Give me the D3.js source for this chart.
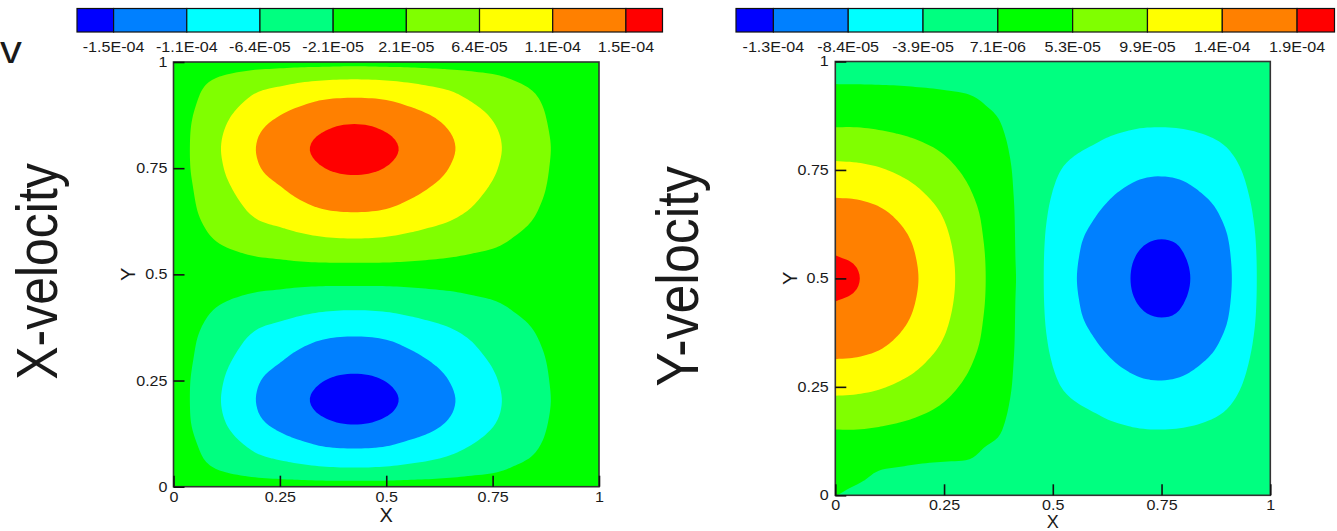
<!DOCTYPE html>
<html><head><meta charset="utf-8">
<script src="https://cdn.jsdelivr.net/npm/d3@7"></script>
<style>
html,body{margin:0;padding:0;background:#fff;}
svg{display:block;}
text{font-family:"Liberation Sans",Arial,Helvetica,sans-serif;fill:#1a1a1a;}
</style></head><body>
<svg id="chart" width="1337" height="531"></svg>
<script>
// ---------- data ----------
const gridX = [0,0.05,0.1,0.15,0.2,0.25,0.3,0.35,0.4,0.45,0.5,0.55,0.6,0.65,0.7,0.75,0.8,0.85,0.9,0.95,1];
const gridY = [0,0.05,0.1,0.15,0.2,0.25,0.3,0.35,0.4,0.45,0.5,0.55,0.6,0.65,0.7,0.75,0.8,0.85,0.9,0.95,1];
const valueUnit = 1e-5;
const axisTicks = [0,0.25,0.5,0.75,1];
const levelColors = ["#0000ff","#0080ff","#00ffff","#00ff80","#00ff00","#80ff00","#ffff00","#ff8000","#ff0000"];

const uLevels = [-1.5e-4,-1.0714e-4,-6.429e-5,-2.143e-5,2.143e-5,6.429e-5,1.0714e-4,1.5e-4];
const uLabels = ["-1.5E-04","-1.1E-04","-6.4E-05","-2.1E-05","2.1E-05","6.4E-05","1.1E-04","1.5E-04"];
const vLevels = [-1.3e-4,-8.429e-5,-3.857e-5,7.14e-6,5.286e-5,9.857e-5,1.4429e-4,1.9e-4];
const vLabels = ["-1.3E-04","-8.4E-05","-3.9E-05","7.1E-06","5.3E-05","9.9E-05","1.4E-04","1.9E-04"];

// X-velocity, rows y = 0 ... 1, columns x = 0 ... 1 (units of 1e-5)
const uValues = [
 [0,0,-0.1,-0.1,-0.1,-0.2,-0.2,-0.2,-0.2,-0.2,-0.2,-0.2,-0.2,-0.1,-0.1,-0.1,-0.1,0,0,0,0],
 [0,-1.2,-2.5,-3.6,-4.7,-5.4,-6.1,-6.7,-7.0,-7.0,-6.7,-6.1,-5.5,-4.8,-3.9,-3.2,-2.2,-1.5,-0.7,-0.2,0],
 [0,-1.9,-4.1,-5.9,-7.7,-9.0,-10.1,-11.1,-11.5,-11.5,-11.1,-10.1,-9.1,-7.9,-6.5,-5.1,-3.8,-2.5,-1.2,-0.3,0],
 [0,-2.6,-5.3,-7.7,-10.1,-11.7,-13.2,-14.4,-15.1,-15.1,-14.4,-13.2,-11.9,-10.3,-8.5,-6.7,-4.9,-3.2,-1.5,-0.4,0],
 [0,-2.8,-5.8,-8.4,-11.0,-12.7,-14.4,-15.7,-16.3,-16.3,-15.7,-14.4,-12.9,-11.2,-9.2,-7.3,-5.3,-3.5,-1.7,-0.4,0],
 [0,-2.7,-5.5,-8.0,-10.5,-12.1,-13.7,-14.9,-15.5,-15.5,-14.9,-13.7,-12.3,-10.6,-8.7,-6.9,-5.0,-3.3,-1.6,-0.4,0],
 [0,-2.3,-4.8,-6.9,-9.0,-10.4,-11.8,-12.9,-13.4,-13.4,-12.9,-11.8,-10.6,-9.2,-7.5,-6.0,-4.3,-2.9,-1.4,-0.3,0],
 [0,-1.9,-3.9,-5.6,-7.4,-8.5,-9.6,-10.5,-10.9,-10.9,-10.5,-9.6,-8.6,-7.5,-6.2,-4.9,-3.6,-2.3,-1.1,-0.3,0],
 [0,-1.3,-2.7,-3.9,-5.1,-5.8,-6.6,-7.2,-7.5,-7.5,-7.2,-6.6,-5.9,-5.2,-4.2,-3.4,-2.4,-1.6,-0.8,-0.2,0],
 [0,-0.7,-1.4,-2.0,-2.6,-3.0,-3.5,-3.8,-3.9,-3.9,-3.8,-3.5,-3.1,-2.7,-2.2,-1.8,-1.3,-0.8,-0.4,-0.1,0],
 [0,0,0,0,0,0,0,0,0,0,0,0,0,0,0,0,0,0,0,0,0],
 [0,0.7,1.4,2.0,2.6,3.0,3.5,3.8,3.9,3.9,3.8,3.5,3.1,2.7,2.2,1.8,1.3,0.8,0.4,0.1,0],
 [0,1.3,2.7,3.9,5.1,5.8,6.6,7.2,7.5,7.5,7.2,6.6,5.9,5.2,4.2,3.4,2.4,1.6,0.8,0.2,0],
 [0,1.9,3.9,5.6,7.4,8.5,9.6,10.5,10.9,10.9,10.5,9.6,8.6,7.5,6.2,4.9,3.6,2.3,1.1,0.3,0],
 [0,2.3,4.8,6.9,9.0,10.4,11.8,12.9,13.4,13.4,12.9,11.8,10.6,9.2,7.5,6.0,4.3,2.9,1.4,0.3,0],
 [0,2.7,5.5,8.0,10.5,12.1,13.7,14.9,15.5,15.5,14.9,13.7,12.3,10.6,8.7,6.9,5.0,3.3,1.6,0.4,0],
 [0,2.8,5.8,8.4,11.0,12.7,14.4,15.7,16.3,16.3,15.7,14.4,12.9,11.2,9.2,7.3,5.3,3.5,1.7,0.4,0],
 [0,2.6,5.3,7.7,10.1,11.7,13.2,14.4,15.1,15.1,14.4,13.2,11.9,10.3,8.5,6.7,4.9,3.2,1.5,0.4,0],
 [0,2.0,4.2,6.1,8.0,9.3,10.5,11.5,11.9,11.9,11.5,10.5,9.4,8.2,6.7,5.3,3.9,2.6,1.2,0.3,0],
 [0,1.3,2.7,3.9,5.1,5.8,6.6,7.2,7.5,7.5,7.2,6.6,5.9,5.2,4.2,3.4,2.4,1.6,0.8,0.2,0],
 [0,0.1,0.2,0.3,0.4,0.5,0.6,0.6,0.7,0.7,0.6,0.6,0.5,0.4,0.4,0.3,0.2,0.1,0.1,0,0]
];

// Y-velocity, rows y = 0 ... 1, columns x = 0 ... 1 (units of 1e-5)
const vValues = [
 [0.8,-0.1,0,0,0,0,0,0,0,0,0,0,0,0,0,0,0,0,0,0,0],
 [2.5,1.5,0.5,0.1,-0.24,-0.31,-0.12,-0.05,0,-0.08,-0.34,-0.49,-0.61,-0.73,-0.81,-0.83,-0.8,-0.71,-0.55,-0.33,-0.06],
 [2.95,2.9,2.7,2.5,2.1,1.7,1.3,0.43,0.24,-0.2,-0.8,-1.2,-1.5,-1.8,-2.0,-2.1,-2.0,-1.8,-1.4,-0.8,-0.15],
 [5.2,5.2,4.9,4.4,3.8,3.1,2.3,1.4,0.4,-0.35,-1.5,-2.2,-2.8,-3.3,-3.7,-3.8,-3.65,-3.2,-2.5,-1.5,-0.3],
 [8.2,8.0,7.6,6.9,5.9,4.8,3.5,2.1,0.65,-0.55,-2.4,-3.4,-4.2,-5.1,-5.7,-5.8,-5.6,-5.0,-3.9,-2.3,-0.4],
 [11.0,10.8,10.2,9.2,8.0,6.4,4.7,2.8,0.9,-0.7,-3.2,-4.7,-5.8,-6.9,-7.7,-7.9,-7.6,-6.7,-5.2,-3.1,-0.6],
 [13.7,13.5,12.8,11.5,9.9,8.0,5.9,3.5,1.1,-0.9,-3.9,-5.7,-7.0,-8.4,-9.3,-9.6,-9.2,-8.1,-6.4,-3.8,-0.7],
 [16.2,15.9,15.1,13.6,11.7,9.5,7.0,4.2,1.3,-1.1,-4.6,-6.7,-8.3,-9.9,-11.0,-11.4,-11.0,-9.7,-7.5,-4.5,-0.8],
 [18.0,17.7,16.7,15.1,13.0,10.5,7.7,4.6,1.4,-1.2,-5.2,-7.6,-9.3,-11.2,-12.4,-12.8,-12.4,-10.9,-8.5,-5.1,-0.9],
 [19.05,18.7,17.7,16.0,13.7,11.1,8.2,4.9,1.5,-1.3,-5.5,-8.0,-9.9,-11.9,-13.2,-13.6,-13.1,-11.6,-9.0,-5.4,-1.0],
 [19.4,19.1,18.0,16.3,14.0,11.4,8.3,5.0,1.6,-1.3,-5.6,-8.2,-10.1,-12.1,-13.5,-13.9,-13.4,-11.8,-9.2,-5.5,-1.0],
 [19.05,18.7,17.7,16.0,13.7,11.1,8.2,4.9,1.5,-1.3,-5.5,-8.0,-9.9,-11.9,-13.2,-13.6,-13.1,-11.6,-9.0,-5.4,-1.0],
 [18.0,17.7,16.7,15.1,13.0,10.5,7.7,4.6,1.4,-1.2,-5.2,-7.6,-9.3,-11.2,-12.4,-12.8,-12.4,-10.9,-8.5,-5.1,-0.9],
 [16.2,15.9,15.1,13.6,11.7,9.5,7.0,4.2,1.3,-1.1,-4.6,-6.7,-8.3,-9.9,-11.0,-11.4,-11.0,-9.7,-7.5,-4.5,-0.8],
 [13.7,13.5,12.8,11.5,9.9,8.0,5.9,3.5,1.1,-0.9,-3.9,-5.7,-7.0,-8.4,-9.3,-9.6,-9.2,-8.1,-6.4,-3.8,-0.7],
 [11.0,10.8,10.2,9.2,8.0,6.4,4.7,2.8,0.9,-0.7,-3.2,-4.7,-5.8,-6.9,-7.7,-7.9,-7.6,-6.7,-5.2,-3.1,-0.6],
 [8.2,8.0,7.6,6.9,5.9,4.8,3.5,2.1,0.65,-0.55,-2.4,-3.4,-4.2,-5.1,-5.7,-5.8,-5.6,-5.0,-3.9,-2.3,-0.4],
 [5.2,5.2,4.9,4.4,3.8,3.1,2.3,1.4,0.4,-0.35,-1.5,-2.2,-2.8,-3.3,-3.7,-3.8,-3.65,-3.2,-2.5,-1.5,-0.3],
 [2.95,2.9,2.7,2.5,2.1,1.7,1.3,0.65,0.24,-0.2,-0.8,-1.2,-1.5,-1.8,-2.0,-2.1,-2.0,-1.8,-1.4,-0.8,-0.15],
 [0.64,0.63,0.6,0.54,0.46,0.37,0.27,0.17,0.05,-0.08,-0.34,-0.49,-0.61,-0.73,-0.81,-0.83,-0.8,-0.71,-0.55,-0.33,-0.06],
 [0,0,0,0,0,0,0,0,0,0,0,0,0,0,0,0,0,0,0,0,0]
];

// ---------- drawing ----------
const svg = d3.select("#chart");
const defs = svg.append("defs");
const TX = 1.15;      // horizontal stretch of the original picture's lettering
const REFINE = 6;     // display-only smoothing of the read grid (cubic), for round contour edges

function cubic(p0, p1, p2, p3, t) {
  return p1 + 0.5 * t * (p2 - p0 + t * (2*p0 - 5*p1 + 4*p2 - p3 + t * (3*(p1 - p2) + p3 - p0)));
}
function refine1(arr, f) {
  const n = arr.length, out = [];
  const at = i => i < 0 ? 2*arr[0] - arr[1] : i >= n ? 2*arr[n-1] - arr[n-2] : arr[i];
  for (let i = 0; i < n - 1; i++)
    for (let k = 0; k < f; k++) out.push(cubic(at(i-1), arr[i], arr[i+1], at(i+2), k / f));
  out.push(arr[n-1]);
  return out;
}
function refineGrid(values, f) {
  const rows = values.map(r => refine1(r, f));
  const NX = rows[0].length;
  const cols = d3.range(NX).map(c => refine1(rows.map(r => r[c]), f));
  const NY = cols[0].length;
  return d3.range(NY).map(r => d3.range(NX).map(c => cols[c][r]));
}

function drawPanel(p) {
  const g = svg.append("g");
  const x = d3.scaleLinear().domain([0,1]).range([p.left, p.right]);
  const y = d3.scaleLinear().domain([0,1]).range([p.bottom, p.top]);
  const fine = refineGrid(p.values, REFINE);
  const NY = fine.length, NX = fine[0].length;
  const dx = (gridX[gridX.length-1]-gridX[0])/(NX-1), dy = (gridY[gridY.length-1]-gridY[0])/(NY-1);
  const flat = [];
  for (let r = NY-1; r >= 0; r--) for (let c = 0; c < NX; c++) flat.push(fine[r][c]*valueUnit);
  const bands = d3.contours().size([NX, NY]).smooth(true).thresholds(p.levels)(flat);
  const toPx = ([cx, cy]) => [x(gridX[0] + (cx-0.5)*dx), y(gridY[gridY.length-1] - (cy-0.5)*dy)];
  const line = d3.line().curve(d3.curveLinearClosed);

  const clipId = "clip-" + p.id;
  defs.append("clipPath").attr("id", clipId).append("rect")
    .attr("x", x(0)).attr("y", y(1)).attr("width", x(1)-x(0)).attr("height", y(0)-y(1));
  const cg = g.append("g").attr("clip-path", `url(#${clipId})`);
  cg.append("rect").attr("x", x(0)).attr("y", y(1)).attr("width", x(1)-x(0)).attr("height", y(0)-y(1))
    .attr("fill", levelColors[0]);
  cg.selectAll("path.band").data(bands).join("path").attr("class","band")
    .attr("fill", (d,i) => levelColors[i+1])
    .attr("fill-rule", "evenodd")
    .attr("d", d => d.coordinates.map(poly => poly.map(ring => line(ring.slice(0,-1).map(toPx))).join("")).join(""));

  // frame
  g.append("rect").attr("x", x(0)).attr("y", y(1)).attr("width", x(1)-x(0)).attr("height", y(0)-y(1))
    .attr("fill","none").attr("stroke","#333").attr("stroke-width",1.6);

  const fmt = d3.format("~g");
  const gx = g.append("g").attr("transform", `translate(0,${y(0)})`)
    .call(d3.axisBottom(x).tickValues(axisTicks).tickSize(-11).tickPadding(p.padB).tickFormat(fmt));
  const gy = g.append("g").attr("transform", `translate(${x(0)},0)`)
    .call(d3.axisLeft(y).tickValues(axisTicks).tickSize(-11).tickPadding(p.padL).tickFormat(fmt));
  [gx, gy].forEach(a => {
    a.select(".domain").remove();
    a.selectAll(".tick line").attr("stroke","#111").attr("stroke-width",1.6);
    a.selectAll(".tick text").attr("font-size",14).attr("fill","#1a1a1a")
      .attr("font-family",'"Liberation Sans",Arial,sans-serif')
      .attr("transform", `scale(${TX},1)`);
  });
  gy.selectAll(".tick text").attr("x", -p.padL/TX);

  // axis titles
  g.append("text").text("X").attr("font-size",p.xTitleSize).attr("text-anchor","middle")
    .attr("x", (x(0)+x(1))/2).attr("y", p.xTitleY);
  g.append("text").text("Y").attr("font-size",20).attr("text-anchor","middle")
    .attr("transform", `translate(${p.yTitleX},${(y(0)+y(1))/2}) rotate(-90)`);

  // colour bar
  const cb = d3.scaleLinear().domain([-0.5, p.levels.length-0.5]).range([p.cbLeft, p.cbRight]);
  const cbg = g.append("g");
  cbg.selectAll("rect").data(levelColors).join("rect")
    .attr("x", (c,i) => cb(Math.max(i-1,-0.5)))
    .attr("width", (c,i) => cb(Math.min(i, p.levels.length-0.5)) - cb(Math.max(i-1,-0.5)))
    .attr("y", 8.5).attr("height", 23.5)
    .attr("fill", c => c).attr("stroke","#111").attr("stroke-width",1.2);
  cbg.selectAll("text").data(p.labels).join("text")
    .attr("transform", (t,i) => `translate(${cb(i)},51.5) scale(${TX},1)`)
    .attr("text-anchor","middle").attr("font-size",14).text(t => t);
}

drawPanel({id:"u", values:uValues, levels:uLevels, labels:uLabels,
  left:173.5, right:599, top:62, bottom:486.7, padB:5, padL:6,
  xTitleY:521.5, xTitleSize:20, yTitleX:135, cbLeft:77, cbRight:662.5});
drawPanel({id:"v", values:vValues, levels:vLevels, labels:vLabels,
  left:835.3, right:1270.3, top:61.5, bottom:495.3, padB:5, padL:6.5,
  xTitleY:528, xTitleSize:18, yTitleX:797, cbLeft:736, cbRight:1334.5});

// big row labels
svg.append("text").text("X-velocity").attr("font-size",50).attr("text-anchor","middle")
  .attr("transform", `translate(57,271.5) scale(${TX},1) rotate(-90)`);
svg.append("text").text("Y-velocity").attr("font-size",52).attr("text-anchor","middle")
  .attr("transform", `translate(698,276.5) scale(${TX},1) rotate(-90)`);
// clipped fragment at the top-left edge
svg.append("text").text("v").attr("font-size",38)
  .attr("transform", `translate(0,62.5) scale(${TX},1)`);
</script>
</body></html>
